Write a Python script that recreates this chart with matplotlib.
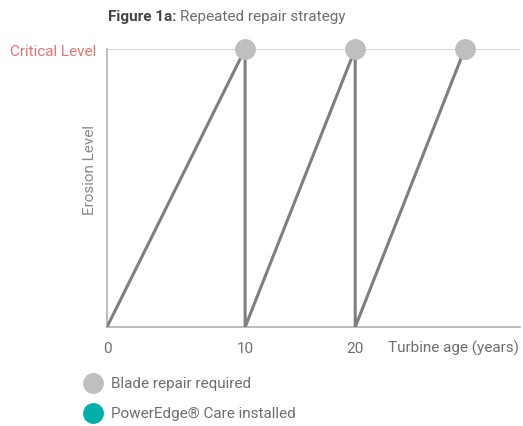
import matplotlib
matplotlib.use("Agg")
import matplotlib.pyplot as plt

plt.rcParams["font.family"] = ["Roboto", "DejaVu Sans"]

# erosion path (x in drawing units along turbine age axis, y = erosion level 0..1)
path_x = [0, 10, 10, 17.97, 17.97, 25.9]
path_y = [0, 1, 0, 1, 0, 1]
repair_x = [10, 17.97, 25.9]
repair_y = [1, 1, 1]
tick_pos = [0, 10, 17.97]
tick_labels = ["0", "10", "20"]

line_grey = "#7f7f7f"
dot_grey = "#bfbfbf"
teal = "#00b0a8"
salmon = "#f07070"
text_grey = "#6e6e6e"
fs = 11

fig = plt.figure(figsize=(5.23, 4.27), dpi=100)
ax = fig.add_axes([107/523, 99/427, (520-107)/523, 278/427])

ax.plot(path_x, path_y, color=line_grey, lw=2.2, solid_capstyle="butt", zorder=3)
ax.plot(repair_x, repair_y, "o", color=dot_grey, ms=14, zorder=4, clip_on=False)
ax.axhline(1, color="#d0d0d0", lw=1.2, zorder=1)

ax.set_xlim(0, 29.9)
ax.set_ylim(0, 1)
for s in ["top", "right"]:
    ax.spines[s].set_visible(False)
for s in ["left", "bottom"]:
    ax.spines[s].set_color("#b0b0b0")
    ax.spines[s].set_linewidth(1.2)

ax.set_xticks(tick_pos)
ax.set_xticklabels(tick_labels)
ax.tick_params(axis="x", length=0, pad=10, labelsize=fs, labelcolor=text_grey)
ax.set_yticks([1])
ax.set_yticklabels(["Critical Level"])
ax.tick_params(axis="y", length=0, pad=8, labelsize=fs, labelcolor=salmon)
fig.text(90/523, 1 - 170/427, "Erosion Level", color="#8a8a8a", fontsize=fs,
         rotation=90, ha="center", va="center")

fig.text(388/523, 1 - 348/427, "Turbine age (years)", color=text_grey, fontsize=fs, va="center")

# title: bold part then regular part
t1 = fig.text(108/523, 1 - 17/427, "Figure 1a:", color="#444444", fontsize=11,
              va="center", fontweight="bold")
r = fig.canvas.get_renderer()
bb = t1.get_window_extent(r)
fig.text((bb.x1 + 4) / fig.bbox.width, 1 - 17/427, "Repeated repair strategy",
         color=text_grey, fontsize=11, va="center")

# legend
fig.lines.append(plt.Line2D([93/523], [1 - 384/427], marker="o", ms=14, color=dot_grey,
                            transform=fig.transFigure, figure=fig))
fig.lines.append(plt.Line2D([93/523], [1 - 414/427], marker="o", ms=14, color=teal,
                            transform=fig.transFigure, figure=fig))
fig.text(111/523, 1 - 384/427, "Blade repair required", color=text_grey, fontsize=fs, va="center")
fig.text(111/523, 1 - 414/427, "PowerEdge® Care installed", color=text_grey, fontsize=fs, va="center")

fig.savefig("out.png", dpi=100)
